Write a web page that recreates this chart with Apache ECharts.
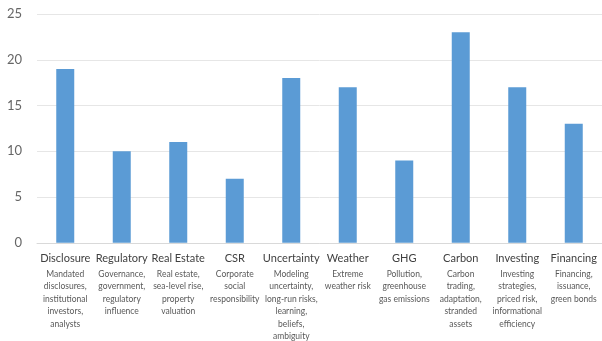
<!DOCTYPE html>
<html>
<head>
<meta charset="utf-8">
<script src="https://cdn.jsdelivr.net/npm/echarts@6/dist/echarts.min.js"></script>
<style>
  html, body { margin: 0; padding: 0; background: #fff; }
  #chart { width: 602px; height: 341px; }
</style>
</head>
<body>
<div id="chart"></div>
<script>
// Topic categories, their short descriptions, and counts per topic
const categories = ['Disclosure', 'Regulatory', 'Real Estate', 'CSR', 'Uncertainty',
                    'Weather', 'GHG', 'Carbon', 'Investing', 'Financing'];
const descriptions = [
  'Mandated\ndisclosures,\ninstitutional\ninvestors,\nanalysts',
  'Governance,\ngovernment,\nregulatory\ninfluence',
  'Real estate,\nsea-level rise,\nproperty\nvaluation',
  'Corporate\nsocial\nresponsibility',
  'Modeling\nuncertainty,\nlong-run risks,\nlearning,\nbeliefs,\nambiguity',
  'Extreme\nweather risk',
  'Pollution,\ngreenhouse\ngas emissions',
  'Carbon\ntrading,\nadaptation,\nstranded\nassets',
  'Investing\nstrategies,\npriced risk,\ninformational\nefficiency',
  'Financing,\nissuance,\ngreen bonds'
];
const counts = [19, 10, 11, 7, 18, 17, 9, 23, 17, 13];
const yTicks = { min: 0, max: 25, interval: 5 };

const chart = echarts.init(document.getElementById('chart'), null, { renderer: 'canvas' });

chart.setOption({
  animation: false,
  grid: { left: 37, right: -1, top: 14, bottom: 97, containLabel: false },
  xAxis: {
    type: 'category',
    data: categories,
    axisTick: { show: false },
    axisLine: { lineStyle: { color: '#d9d9d9', width: 1 } },
    axisLabel: {
      interval: 0,
      margin: 6,
      formatter: function (value, idx) {
        const lines = descriptions[idx].split('\n').map(s => '{d|' + s + '}').join('\n');
        return '{t|' + value + '}\n' + lines;
      },
      rich: {
        t: { fontFamily: 'Lato', fontSize: 11, color: '#404040', lineHeight: 19 },
        d: { fontFamily: 'Lato', fontSize: 8.5, color: '#595959', lineHeight: 12.5 }
      }
    }
  },
  yAxis: {
    type: 'value',
    min: yTicks.min,
    max: yTicks.max,
    interval: yTicks.interval,
    axisLine: { show: false },
    axisTick: { show: false },
    axisLabel: { fontFamily: 'Lato', fontSize: 13, color: '#666666', margin: 15 },
    splitLine: { lineStyle: { color: '#e6e6e6', width: 1 } }
  },
  series: [{
    type: 'bar',
    data: counts,
    barWidth: 18,
    itemStyle: { color: '#5b9bd5' }
  }]
});
</script>
</body>
</html>
